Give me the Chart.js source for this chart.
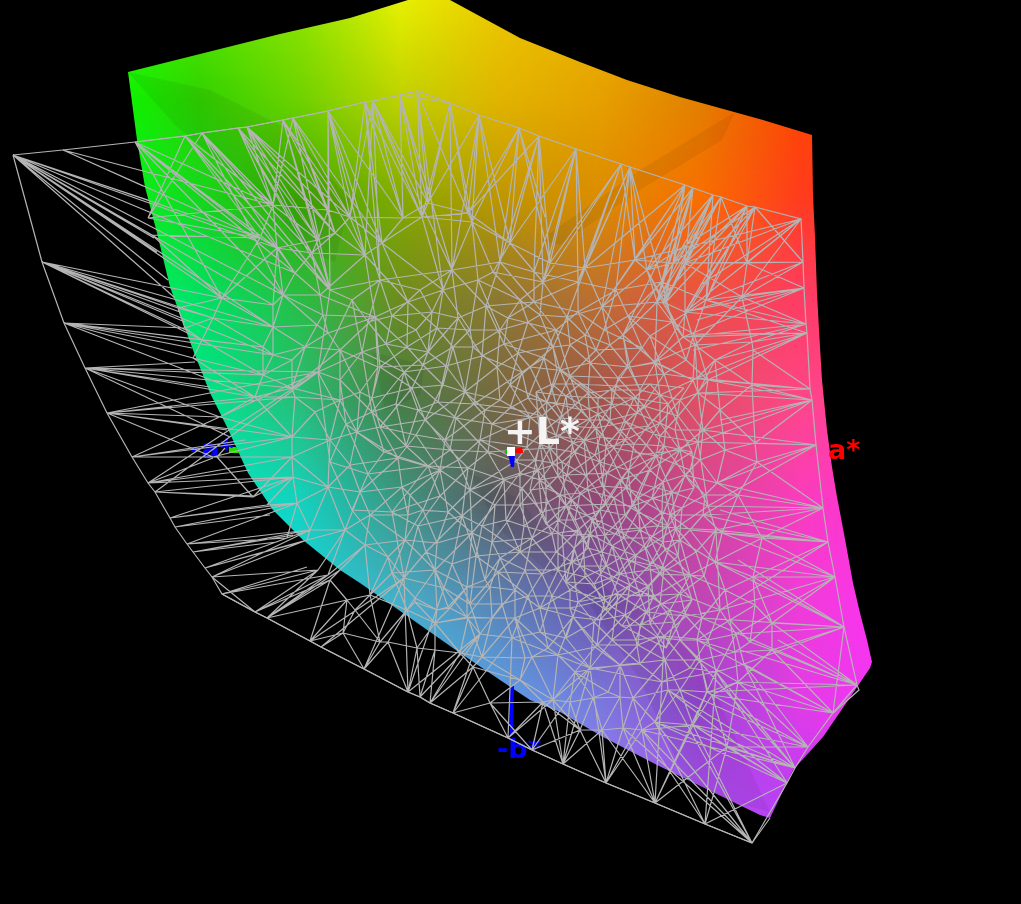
<!DOCTYPE html>
<html>
<head>
<meta charset="utf-8">
<title>Gamut view</title>
<style>
  html, body { margin: 0; padding: 0; background: #000; }
  canvas { display: block; }
</style>
<script src="https://cdn.jsdelivr.net/npm/chart.js@4/dist/chart.umd.min.js"></script>
</head>
<body>
<canvas id="gamut" width="1021" height="904"></canvas>
<script>
// Colour of the gamut surface on a 100px lattice
const shadeXs = [100, 200, 300, 400, 500, 600, 700, 800, 900];
const shadeYs = [0, 100, 200, 300, 400, 500, 600, 700, 800, 900];
const shadeRows = [
  ['#30ff00', '#58e800', '#90e600', '#e6f000', '#ecc800', '#ebb400', '#f09600', '#ff5000', '#ff4000'],
  ['#00ff00', '#30d200', '#6ed200', '#bed200', '#e1b400', '#e6a000', '#e18000', '#ff4600', '#ff4000'],
  ['#00ff20', '#14d71e', '#3caa00', '#82aa00', '#be9600', '#dc8c00', '#fa6e00', '#ff3c1e', '#ff3232'],
  ['#00ff70', '#00e164', '#28be46', '#6e8c1e', '#8c7832', '#be6e32', '#eb5046', '#ff3c64', '#ff3c78'],
  ['#00ffa0', '#00e68c', '#28be78', '#467d46', '#786941', '#a0554b', '#e15064', '#ff4687', '#ff3caa'],
  ['#00ffe0', '#00ebc8', '#14d2be', '#3c9682', '#5a5a64', '#964678', '#d24696', '#fa3cbe', '#ff32dc'],
  ['#00f0ff', '#10e4f0', '#14d7e1', '#46afc8', '#5a82b4', '#6e50aa', '#be46b4', '#f03cd7', '#ff32f5'],
  ['#28c8ff', '#30c8ff', '#38c8ff', '#3cbef0', '#5aa0e6', '#7878dc', '#9646d2', '#e13ce6', '#fa32fa'],
  ['#50b4ff', '#60b0ff', '#70a8ff', '#78a0ff', '#78a0ff', '#9682ff', '#aa50f0', '#be3cf5', '#fa32fa'],
  ['#50b4ff', '#60b0ff', '#70a8ff', '#78a0ff', '#78a0ff', '#9682ff', '#aa50f0', '#be3cf5', '#fa32fa']
];

// Outline of the coloured solid
const surfaceEdge = [
  [128,72],[200,54],[280,34],[350,18],[408,0],[450,0],[520,38],[580,62],[627,80],[680,97],[763,120],[812,135],
  [813,195],[815,237],[817,293],[819,330],[822,380],[824,400],[827,430],[832,467],[837,497],[842,523],[847,550],
  [853,583],[860,613],[867,640],[872,662],[870,668],[823,737],[793,770],[770,818],[760,815],[657,765],[603,737],
  [560,712],[530,700],[500,680],[460,653],[413,620],[360,583],[340,570],[303,540],[273,510],[248,473],[227,427],
  [210,393],[193,350],[170,287],[157,233],[145,187],[137,140]
];

// Darker folds on the solid
const foldShapes = [
  [[128,72],[175,125],[260,195],[305,250],[335,262],[350,200],[290,130],[210,90]],
  [[467,470],[520,500],[578,572],[552,576],[500,530]],
  [[540,240],[640,170],[735,112],[722,140],[640,190],[560,245]],
  [[560,560],[640,610],[700,660],[770,812],[690,790],[640,680]],
  [[372,352],[425,365],[420,395],[385,410]]
];

// Outline of the wireframe gamut
const wireEdge = [
  [13,155],[63,150],[135,142],[185,136],[202,133],[238,128],[247,127],[283,120],[293,118],[328,111],[365,102],
  [373,101],[400,95],[417,91],[450,103],[479,115],[519,128],[539,136],[576,149],[621,164],[630,167],[685,185],
  [693,188],[713,195],[721,197],[747,206],[755,207],[801,219],[803,262],[804,288],[806,324],[807,333],[810,389],
  [812,400],[816,445],[823,508],[828,542],[835,577],[844,627],[857,685],[859,690],[833,713],[808,747],[795,768],
  [787,783],[752,843],[705,824],[655,803],[606,783],[563,764],[532,750],[508,738],[453,713],[430,703],[420,697],
  [408,692],[364,669],[321,647],[310,641],[267,618],[255,612],[222,594],[212,577],[205,568],[193,552],[187,544],
  [175,527],[170,518],[155,492],[148,483],[132,457],[107,413],[85,368],[64,323],[42,262]
];

// Vertices inside the wireframe, the ones that stand out
const wireNodes = [
  [273,205],[328,210],[260,238],[277,248],[295,273],[318,240],[312,253],[283,295],[273,305],[222,298],[213,318],[202,340],
  [273,327],[317,325],[323,315],[328,333],[305,347],[273,355],[263,347],[320,295],[335,233],[350,217],[403,218],[382,243],
  [365,255],[422,217],[428,203],[472,222],[468,213],[510,243],[543,282],[585,268],[635,260],[550,263],[657,302],[567,317],
  [602,307],[520,300],[478,280],[493,272],[443,290],[408,302],[375,317],[437,328],[407,347],[423,365],[380,367],[470,330],
  [453,347],[518,353],[553,347],[590,363],[623,335],[630,367],[655,362],[530,367],[560,370],[497,367],[473,347],[528,322],
  [540,315],[673,263],[663,303],[263,375],[255,397],[292,360],[292,388],[315,412],[295,397],[292,437],[292,457],[293,477],
  [328,487],[297,503],[310,530],[307,540],[378,367],[372,398],[360,392],[380,427],[357,432],[416,435],[412,388],[398,458],
  [443,385],[465,392],[485,410],[458,460],[402,487],[360,492],[410,495],[370,515],[408,515],[448,512],[495,505],[520,473],
  [520,505],[423,510],[472,533],[437,543],[388,557],[435,570],[492,542],[500,558],[532,538],[548,502],[558,520],[485,580],
  [467,587],[392,573],[415,598],[450,608],[490,587],[540,608],[515,618],[570,608],[558,570],[585,577],[605,600],[612,607],
  [620,558],[638,498],[662,512],[653,597],[573,617],[597,645],[548,648],[435,623],[467,617],[557,370],[628,367],[612,390],
  [588,393],[547,402],[530,417],[637,413],[660,423],[600,437],[573,443],[553,463],[527,447],[517,460],[607,473],[580,493],
  [567,475],[663,482],[583,537],[663,542],[685,312],[665,303],[742,297],[747,263],[685,263],[647,270],[752,342],[683,337],
  [753,350],[655,363],[693,380],[697,378],[752,385],[698,393],[755,443],[703,430],[757,462],[738,495],[717,483],[670,515],
  [722,533],[703,515],[715,562],[665,550],[753,577],[762,538],[653,598],[702,618],[772,623],[750,642],[657,637],[735,652],
  [697,640],[738,682],[680,690],[707,692],[532,657],[558,655],[595,647],[638,645],[668,690],[708,692],[593,698],[570,702],
  [620,697],[633,698],[655,722],[693,725],[602,730],[580,730],[623,728],[642,730],[727,747],[712,695],[553,700],[543,702],
  [608,692],[772,650],[370,595],[415,602],[407,610],[437,610],[448,607],[468,618],[492,618],[525,658],[482,657],[460,653],
  [388,642],[380,642],[417,648],[435,650],[343,633],[355,610],[347,600],[330,580],[490,703],[473,667],
  [318,570],[328,575],[287,538],[267,505],[253,497],[220,417],[213,457],[193,358],[185,328],[178,308],[152,235],[148,218],
  [545,430],[560,418],[590,420],[575,405],[610,420],[625,440],[640,455],[650,470],[620,480],[595,455],[560,495],[540,480],
  [535,460],[575,520],[600,510],[625,515],[605,535],[640,530],[650,565],[630,585],[600,570],[570,590],[625,615],[640,625],
  [600,620],[680,450],[685,475],[675,430],[680,400],[660,395],[640,390],[610,345],[585,335],[570,345],[500,330],[500,400],
  [510,385],[480,440],[440,470],[425,420],[445,440],[340,350],[340,400],[330,440],[350,465],[345,530],[365,545],[405,540],
  [470,490],[525,570],[515,590],[680,540],[690,575],[670,610],[680,640],[725,590],[730,620],[665,660],[620,665],[575,672],
  [520,680],[700,660],[755,605],[695,345],[715,360],[720,410],[725,450],[700,460],[705,495],[690,530]
];

// Second sheet of the wireframe (the far side seen through the near one), tight in the middle
const backNodes = [
  [352,300],[368,322],[392,316],[416,330],[432,312],[458,318],[486,306],[508,318],[534,302],[556,330],[578,312],[604,330],
  [628,316],[650,336],[672,322],[694,334],[362,352],[386,344],[404,372],[428,352],[446,366],[482,356],[504,344],[522,372],
  [544,358],[570,376],[596,350],[618,378],[642,348],[664,374],[686,360],[708,380],[372,412],[396,404],[418,410],[438,402],
  [456,418],[474,404],[492,424],[510,408],[528,398],[542,416],[556,404],[568,426],[582,410],[596,428],[612,404],[626,422],
  [644,406],[660,436],[678,416],[698,442],[384,452],[406,446],[428,466],[450,450],[468,468],[488,452],[504,480],[522,488],
  [538,470],[550,448],[562,462],[574,452],[586,476],[600,462],[614,448],[628,470],[642,484],[656,456],[672,492],[690,470],
  [708,506],[392,512],[418,526],[440,496],[462,516],[482,526],[506,520],[524,526],[542,512],[552,534],[566,506],[578,530],
  [592,518],[606,504],[618,530],[632,506],[646,548],[658,526],[676,528],[696,552],[716,530],[404,578],[426,552],[452,564],
  [476,556],[498,572],[520,552],[542,574],[556,552],[572,562],[588,548],[602,552],[612,580],[628,560],[640,596],[660,574],
  [680,594],[704,576],[720,610],[444,588],[470,604],[502,604],[528,596],[552,596],[578,602],[594,622],[618,594],[636,640],
  [646,612],[664,636],[686,616],[708,640],[736,634],[480,634],[512,638],[540,632],[566,638],[590,668],[612,640],[640,664],
  [662,682],[690,668],[716,672],[744,664],[340,380],[318,372],[346,424],[330,462],[368,474],[352,510],[420,290],[452,270],
  [500,262],[534,272],[578,282],[616,290],[662,282],[706,300],[380,280],[330,290]
];

// Third sheet, only the tight knot right of the centre
const knotNodes = [
  [536,392],[552,384],[566,396],[580,384],[598,398],[616,386],[634,398],[650,384],[668,404],[684,388],[540,442],[556,436],
  [570,430],[584,440],[598,414],[606,446],[620,430],[634,444],[648,426],[664,446],[676,462],[692,452],[530,490],[546,488],
  [558,476],[572,500],[588,490],[602,486],[614,498],[626,488],[638,512],[652,498],[668,526],[682,508],[694,488],[546,524],
  [562,536],[574,548],[590,534],[598,526],[612,546],[624,538],[636,556],[650,538],[664,568],[678,556],[692,600],[566,582],
  [580,566],[594,584],[606,566],[620,574],[634,572],[648,586],[660,604],[674,622],[606,610],[622,626],[650,624],[666,648]
];

// Long needles that run from the outline into the mesh: [hub x, hub y, target x, target y, ...]
const needleFans = [
  [13,155, 148,200,152,235,150,226,154,238,157,252,168,280,175,298,273,305,260,238,222,298,277,248,295,273,283,295,273,327],
  [63,150, 143,186,273,205,260,238],
  [42,262, 178,308,180,312,185,322,190,332,213,318,202,340,222,298,273,327,273,355],
  [64,323, 185,328,192,348,193,358,263,347,202,340,255,397,273,355],
  [85,368, 195,362,255,397,220,417,230,437,210,387,263,375,292,388],
  [107,413, 172,407,220,417,227,430,213,457,255,397,295,397,292,437],
  [132,457, 217,457,292,457,245,440,292,437],
  [148,483, 213,458,250,470,293,477,292,457],
  [155,492, 255,496,238,495,253,497,293,477],
  [170,518, 267,505,297,503,293,477],
  [175,527, 270,515,297,503],
  [187,544, 287,538,310,530,297,503],
  [193,552, 277,542,293,535,310,530],
  [205,568, 302,542,287,538,307,540],
  [212,577, 307,540,318,570,310,530],
  [222,594, 318,570,328,575,307,567],
  [255,612, 318,570,328,575,330,580],
  [267,618, 328,575,340,570,347,600],
  [217,457, 253,497,225,448,292,457],
  [135,142, 273,205,260,238,277,248,295,273,283,295,222,298],
  [185,136, 273,205,277,248,260,238],
  [202,133, 273,205,295,273,312,253,283,295],
  [238,128, 318,240,312,253,335,233,273,205],
  [247,127, 318,240,335,233,350,217,328,210],
  [283,120, 328,210,350,217,365,255,318,240],
  [293,118, 335,233,350,217,382,243,328,210],
  [328,111, 350,217,403,218,382,243,365,255],
  [365,102, 403,218,422,217,382,243,350,217],
  [373,101, 422,217,350,217,403,218,365,255],
  [400,95, 422,217,428,203,403,218],
  [417,91, 422,217,428,203,468,213,443,290],
  [450,103, 468,213,472,222,422,217],
  [479,115, 468,213,472,222,428,203,510,243],
  [519,128, 472,222,510,243,545,217,550,263,468,213],
  [539,136, 550,263,543,282,510,243],
  [576,149, 585,268,510,243,550,263,543,282],
  [621,164, 585,268,635,260,543,282,550,263],
  [630,167, 635,260,585,268,647,270,602,307],
  [685,185, 647,270,635,260,657,302,585,268,602,307],
  [693,188, 657,302,663,303,635,260,623,335],
  [713,195, 665,303,647,270,673,263,657,302],
  [721,197, 663,303,665,303,657,302,623,335],
  [747,206, 685,263,685,312,647,270,657,302],
  [755,207, 685,312,665,303,673,263,655,362],
  [801,219, 685,263,747,263,700,285,742,297,685,312,635,260],
  [803,262, 685,263,747,263,742,297,673,263],
  [804,288, 742,297,697,320,685,312,683,337],
  [806,324, 752,342,683,337,693,350,685,312],
  [807,333, 752,342,697,378,683,337],
  [810,389, 753,350,752,385,697,378,698,393],
  [812,400, 752,385,698,393,720,420,755,443,703,430],
  [816,445, 703,430,755,443,757,462,717,483],
  [823,508, 717,483,757,462,738,495,703,515],
  [828,542, 722,533,720,510,762,538,703,515,690,530],
  [835,577, 753,577,762,538,715,562,722,533],
  [844,627, 772,623,753,577,738,560,702,618,715,562],
  [857,685, 772,623,740,650,778,640,738,682,708,692,702,618],
  [833,713, 738,682,712,695,772,650,697,640],
  [808,747, 712,695,693,725,738,682,680,690],
  [795,768, 668,690,693,725,655,722,727,747,642,730,680,640],
  [787,783, 693,725,655,722,668,690],
  [752,843, 655,722,693,725,642,730,623,728,770,818,668,690],
  [705,824, 642,730,655,722],
  [655,803, 623,728,602,730,642,730],
  [606,783, 580,730,602,730,623,728],
  [563,764, 553,700,570,702,543,702,580,730],
  [532,750, 490,703,543,702]
];

// Small markers at the axis ends and the centre
const blueAxis = [[510,686],[514,686],[513,735],[510,735]];
const greenTip = [[229,447],[236,447],[240,453],[229,453]];
const centreBlue = [[508,454],[515,454],[514,467],[511,467]];
const centreWhite = [[507,447],[515,447],[515,456],[507,456]];
const centreGreen = [[505,449],[507,449],[507,454],[505,454]];
const centreRed = [[515,449],[522,447],[523,453],[515,453]];

const axisLabels = ['-a*', 'a*', '-b*'];
const axisLabelX = [190, 828, 497];
const axisLabelY = [458, 459, 758];
const axisLabelColors = ['#0000ff', '#ff0000', '#0000ff'];
const centreLabel = '+L*';

const toPoints = list => list.map(p => ({ x: p[0], y: p[1] }));

// Colour of the shading lattice at one position, blended from the four nearest read values
const hexToRgb = h => [1, 3, 5].map(i => parseInt(h.substr(i, 2), 16));
const shadeAt = (x, y) => {
  const cx = Math.min(Math.max((x - shadeXs[0]) / 100, 0), shadeXs.length - 1.001);
  const cy = Math.min(Math.max((y - shadeYs[0]) / 100, 0), shadeYs.length - 1.001);
  const i = Math.floor(cx), j = Math.floor(cy);
  const u = cx - i, v = cy - j;
  const a = hexToRgb(shadeRows[j][i]), b = hexToRgb(shadeRows[j][i + 1]);
  const c = hexToRgb(shadeRows[j + 1][i]), d = hexToRgb(shadeRows[j + 1][i + 1]);
  const mix = a.map((_, k) => Math.round((a[k] * (1 - u) + b[k] * u) * (1 - v) + (c[k] * (1 - u) + d[k] * u) * v));
  return `rgb(${mix[0]},${mix[1]},${mix[2]})`;
};

const shadePoints = [];
const shadeColors = [];
for (let y = 0; y <= 830; y += 4) {
  for (let x = 120; x <= 880; x += 4) {
    shadePoints.push({ x, y });
    shadeColors.push(shadeAt(x, y));
  }
}

// Connect the wire vertices (Bowyer-Watson), the picture only gives us the vertices
const triangulate = pts => {
  const all = pts.concat([[-3000, -3000], [5000, -3000], [1000, 6000]]);
  const n = pts.length;
  let tris = [[n, n + 1, n + 2]];
  const inCircle = (t, p) => {
    const [a, b, c] = t.map(i => all[i]);
    const ax = a[0] - p[0], ay = a[1] - p[1];
    const bx = b[0] - p[0], by = b[1] - p[1];
    const cx = c[0] - p[0], cy = c[1] - p[1];
    const det = (ax * ax + ay * ay) * (bx * cy - cx * by)
      - (bx * bx + by * by) * (ax * cy - cx * ay)
      + (cx * cx + cy * cy) * (ax * by - bx * ay);
    const area = (b[0] - a[0]) * (c[1] - a[1]) - (b[1] - a[1]) * (c[0] - a[0]);
    return area > 0 ? det > 0 : det < 0;
  };
  pts.forEach((p, idx) => {
    const edges = new Map();
    const keep = [];
    tris.forEach(t => {
      if (inCircle(t, p)) {
        [[t[0], t[1]], [t[1], t[2]], [t[2], t[0]]].forEach(([u, v]) => {
          const k = u < v ? u + '_' + v : v + '_' + u;
          edges.set(k, edges.has(k) ? null : [u, v]);
        });
      } else {
        keep.push(t);
      }
    });
    edges.forEach(e => { if (e) keep.push([e[0], e[1], idx]); });
    tris = keep;
  });
  const out = new Map();
  tris.forEach(t => {
    [[t[0], t[1]], [t[1], t[2]], [t[2], t[0]]].forEach(([u, v]) => {
      if (u < n && v < n) out.set(u < v ? u + '_' + v : v + '_' + u, [all[u], all[v]]);
    });
  });
  return [...out.values()];
};

const insidePolygon = (x, y, poly) => {
  let inside = false;
  for (let i = 0, j = poly.length - 1; i < poly.length; j = i++) {
    const [xi, yi] = poly[i], [xj, yj] = poly[j];
    if ((yi > y) !== (yj > y) && x < (xj - xi) * (y - yi) / (yj - yi) + xi) inside = !inside;
  }
  return inside;
};

const wirePoints = [];
const addSegment = (a, b) => {
  wirePoints.push({ x: a[0], y: a[1] }, { x: b[0], y: b[1] }, { x: a[0], y: null });
};
const addSheet = (nodes, maxLength) => {
  triangulate(wireEdge.concat(nodes)).forEach(([a, b]) => {
    const mx = (a[0] + b[0]) / 2, my = (a[1] + b[1]) / 2;
    if (Math.hypot(a[0] - b[0], a[1] - b[1]) > maxLength) return;
    if (!insidePolygon(mx, my, wireEdge)) return;
    // the black left panel only has the needle fans
    if (my < 590 && !insidePolygon(mx, my, surfaceEdge)) return;
    addSegment(a, b);
  });
};
addSheet(wireNodes, 150);
addSheet(backNodes, 240);
addSheet(knotNodes, 60);
needleFans.forEach(fan => {
  for (let i = 2; i < fan.length; i += 2) addSegment([fan[0], fan[1]], [fan[i], fan[i + 1]]);
});

// Black sheet with a hole the shape of the solid: outer box, slit, then the outline
const maskOutline = [[0, 0], [0, 904], [1021, 904], [1021, 0], [0, 0]].concat(surfaceEdge, [surfaceEdge[0], [0, 0]]);

const polygon = (list, color, order) => ({
  data: toPoints(list),
  showLine: true,
  fill: 'shape',
  backgroundColor: color,
  borderColor: color,
  borderWidth: 0,
  pointRadius: 0,
  order
});

const datasets = [
  {
    data: shadePoints,
    pointStyle: 'rect',
    pointRadius: 3.4,
    pointBorderWidth: 0,
    pointBackgroundColor: shadeColors,
    showLine: false,
    order: 20
  }
];
foldShapes.forEach(shape => datasets.push(polygon(shape, 'rgba(0,0,0,0.06)', 19)));
datasets.push(polygon(maskOutline, '#000000', 15));
datasets.push(polygon(blueAxis, '#0000ff', 14));
datasets.push(polygon(greenTip, '#22dd00', 14));
const wireIndex = datasets.length;
datasets.push({
  data: wirePoints,
  showLine: true,
  spanGaps: false,
  borderColor: '#b4b4b4',
  borderWidth: 1.2,
  pointRadius: 0,
  order: 5
});
datasets.push({
  data: toPoints(wireEdge.concat([wireEdge[0]])),
  showLine: true,
  borderColor: '#b4b4b4',
  borderWidth: 1.2,
  pointRadius: 0,
  order: 4
});
// the little centre marker sits on top of the wire
datasets.push(polygon(centreBlue, '#0000ff', 3));
datasets.push(polygon(centreGreen, '#00cc00', 3));
datasets.push(polygon(centreRed, '#ff0000', 3));
datasets.push(polygon(centreWhite, '#ffffff', 2));

const labelPlugin = {
  id: 'gamutLabels',
  beforeDatasetDraw(chart, args) {
    if (args.index !== wireIndex) return;
    const { ctx, scales } = chart;
    ctx.save();
    ctx.font = 'bold 27px "DejaVu Sans"';
    ctx.textBaseline = 'alphabetic';
    axisLabels.forEach((text, i) => {
      ctx.fillStyle = axisLabelColors[i];
      ctx.fillText(text, scales.x.getPixelForValue(axisLabelX[i]), scales.y.getPixelForValue(axisLabelY[i]));
    });
    ctx.restore();
  },
  afterDatasetsDraw(chart) {
    const { ctx, scales } = chart;
    ctx.save();
    ctx.font = 'bold 38px "DejaVu Sans"';
    ctx.fillStyle = '#f4f4f4';
    ctx.fillText(centreLabel, scales.x.getPixelForValue(504), scales.y.getPixelForValue(444));
    ctx.restore();
  }
};

new Chart(document.getElementById('gamut').getContext('2d'), {
  type: 'scatter',
  data: { datasets },
  options: {
    responsive: false,
    animation: false,
    events: [],
    layout: { padding: 0, autoPadding: false },
    plugins: { legend: { display: false }, tooltip: { enabled: false } },
    scales: {
      x: { type: 'linear', display: false, min: 0, max: 1021 },
      y: { type: 'linear', display: false, reverse: true, min: 0, max: 904 }
    }
  },
  plugins: [labelPlugin]
});
</script>
</body>
</html>
